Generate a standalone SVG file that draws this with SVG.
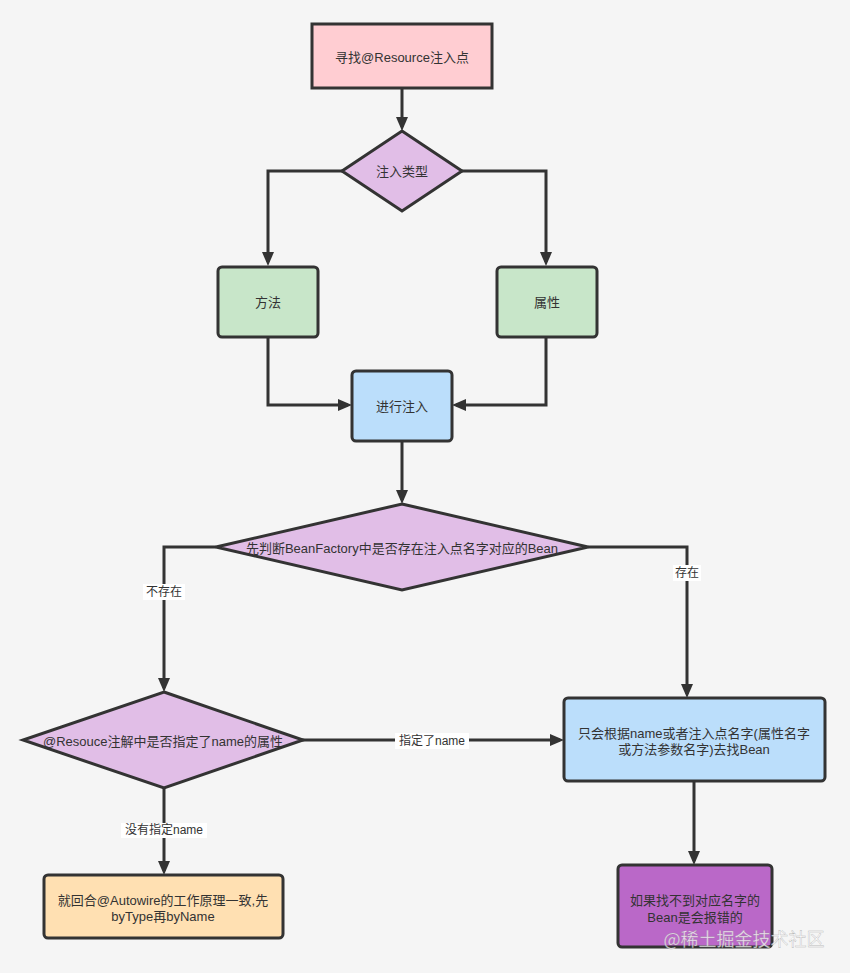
<svg xmlns="http://www.w3.org/2000/svg" width="850" height="973" viewBox="0 0 850 973">
<style>
.n{stroke:#333;stroke-width:3}
.t{font-family:"Liberation Sans","Noto Sans CJK SC",sans-serif;font-size:13px;fill:#333;text-anchor:middle;dominant-baseline:central}
.l{font-family:"Liberation Sans","Noto Sans CJK SC",sans-serif;font-size:12px;fill:#333;text-anchor:middle;dominant-baseline:central}
.c{fill:none;stroke:#333;stroke-width:3}
.lb{fill:#fff}
</style>
<defs>
<marker id="ah" markerUnits="userSpaceOnUse" markerWidth="14" markerHeight="12" refX="10" refY="6" orient="auto">
<path d="M0,0 L14,6 L0,12 z" fill="#333"/>
</marker>
</defs>
<rect width="850" height="973" fill="#f5f5f5"/>
<g id="connectors">
<path class="c" d="M402,88 V127" marker-end="url(#ah)"/>
<path class="c" d="M342,171 H268 V262" marker-end="url(#ah)"/>
<path class="c" d="M462,171 H546 V262" marker-end="url(#ah)"/>
<path class="c" d="M268,337 V405 H348" marker-end="url(#ah)"/>
<path class="c" d="M546,337 V405 H456" marker-end="url(#ah)"/>
<path class="c" d="M402,441 V500" marker-end="url(#ah)"/>
<path class="c" d="M216,547 H164 V688" marker-end="url(#ah)"/>
<path class="c" d="M588,547 H687 V694" marker-end="url(#ah)"/>
<path class="c" d="M302,740 H560" marker-end="url(#ah)"/>
<path class="c" d="M164,788 V871" marker-end="url(#ah)"/>
<path class="c" d="M694,782 V861" marker-end="url(#ah)"/>
<rect class="lb" x="143" y="584" width="42" height="16"/>
<text class="l" x="164" y="592">不存在</text>
<rect class="lb" x="673" y="565" width="28" height="16"/>
<text class="l" x="687" y="573">存在</text>
<rect class="lb" x="395" y="733" width="74" height="16"/>
<text class="l" x="432" y="741">指定了name</text>
<rect class="lb" x="121" y="823" width="86" height="15"/>
<text class="l" x="164" y="830">没有指定name</text>
</g>
<g id="start">
<rect class="n" x="312" y="24" width="180" height="64" fill="#ffcdd2"/>
<text class="t" x="402" y="57">寻找@Resource注入点</text>
</g>
<g id="type">
<polygon class="n" points="402,131 462,171 402,211 342,171" fill="#e1bee7"/>
<text class="t" x="402" y="171">注入类型</text>
</g>
<g id="method">
<rect class="n" x="218" y="267" width="100" height="70" rx="4" fill="#c8e6c9"/>
<text class="t" x="268" y="302">方法</text>
</g>
<g id="field">
<rect class="n" x="497" y="267" width="100" height="70" rx="4" fill="#c8e6c9"/>
<text class="t" x="547" y="302">属性</text>
</g>
<g id="inject">
<rect class="n" x="352" y="371" width="100" height="70" rx="4" fill="#bbdefb"/>
<text class="t" x="402" y="406">进行注入</text>
</g>
<g id="check">
<polygon class="n" points="402,504 588,547 402,590 216,547" fill="#e1bee7"/>
<text class="t" x="402" y="548">先判断BeanFactory中是否存在注入点名字对应的Bean</text>
</g>
<g id="named">
<polygon class="n" points="164,692 303,740 164,788 23,740" fill="#e1bee7"/>
<text class="t" x="163" y="741">@Resouce注解中是否指定了name的属性</text>
</g>
<g id="byname">
<rect class="n" x="564" y="698" width="261" height="83" rx="4" fill="#bbdefb"/>
<text class="t" x="694" y="733">只会根据name或者注入点名字(属性名字</text>
<text class="t" x="694" y="749">或方法参数名字)去找Bean</text>
</g>
<g id="autowire">
<rect class="n" x="44" y="875" width="239" height="63" rx="4" fill="#ffe0b2"/>
<text class="t" x="163" y="900">就回合@Autowire的工作原理一致,先</text>
<text class="t" x="163" y="916">byType再byName</text>
</g>
<g id="error">
<rect class="n" x="618" y="865" width="154" height="82" rx="4" fill="#ba68c8"/>
<text class="t" x="695" y="900">如果找不到对应名字的</text>
<text class="t" x="695" y="917">Bean是会报错的</text>
</g>
<text x="744" y="938" font-family="'Noto Sans CJK SC','Liberation Sans',sans-serif" font-size="18" fill="#ffffff" fill-opacity="0.75" stroke="#888" stroke-width="0.4" stroke-opacity="0.6" text-anchor="middle" dominant-baseline="central">@稀土掘金技术社区</text>
</svg>
